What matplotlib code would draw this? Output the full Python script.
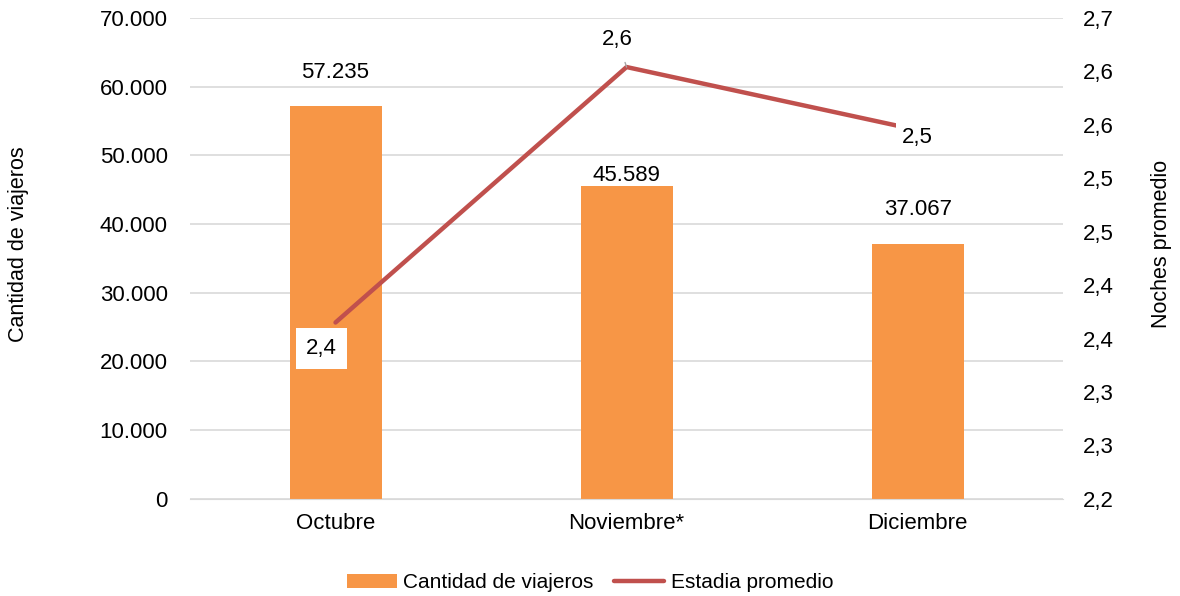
import matplotlib.pyplot as plt
from matplotlib.ticker import FuncFormatter, MultipleLocator

meses = ['Octubre', 'Noviembre*', 'Diciembre']
viajeros = [57235, 45589, 37067]
estadia = [2.365, 2.604, 2.545]
estadia_txt = ['2,4', '2,6', '2,5']

plt.rcParams['font.family'] = ['Liberation Sans', 'DejaVu Sans']

naranja = '#F79646'
rojo = '#C0504D'
fs = 16

fig = plt.figure(figsize=(11.8, 5.96), dpi=100)
ax = fig.add_axes([0.161, 0.163, 0.740, 0.807])
ax2 = ax.twinx()

x = list(range(len(meses)))
ax.bar(x, viajeros, width=0.316, color=naranja, zorder=2, label='Cantidad de viajeros')
ax.set_xlim(-0.5, 2.5)
ax.set_ylim(0, 70000)
ax.yaxis.set_major_locator(MultipleLocator(10000))
ax.yaxis.set_major_formatter(FuncFormatter(lambda v, p: f'{int(v):,}'.replace(',', '.')))
ax.grid(axis='y', color='#d9d9d9', linewidth=1.2, zorder=0)
ax.set_axisbelow(True)
ax.set_xticks(x)
ax.set_xticklabels(meses)
ax.tick_params(axis='y', length=0, labelsize=fs, pad=16)
ax.tick_params(axis='x', length=0, labelsize=fs, pad=10)
ax.set_ylabel('Cantidad de viajeros', fontsize=15.5)
ax.yaxis.set_label_coords(-0.184, 0.53)

# desplazamiento de las etiquetas sobre las barras (en puntos)
offs = [24, 7, 25]
for xi, v, o in zip(x, viajeros, offs):
    ax.annotate(f'{v:,}'.replace(',', '.'), (xi, v), xytext=(0, o), textcoords='offset points',
                ha='center', va='center', fontsize=fs)

ax2.plot(x, estadia, color=rojo, linewidth=3.2, solid_capstyle='round', label='Estadia promedio', zorder=3)
ax2.set_ylim(2.2, 2.65)
ax2.yaxis.set_major_locator(MultipleLocator(0.05))
ax2.yaxis.set_major_formatter(FuncFormatter(lambda v, p: f'{v + 1e-9:.1f}'.replace('.', ',')))
ax2.tick_params(axis='y', length=0, labelsize=fs, pad=14)
ax2.set_ylabel('Noches promedio', fontsize=15.5)
ax2.yaxis.set_label_coords(1.1, 0.53)

for a in (ax, ax2):
    for s in a.spines.values():
        s.set_visible(False)
ax.spines['bottom'].set_visible(True)
ax.spines['bottom'].set_color('#d9d9d9')

# etiquetas de la linea
caja = dict(boxstyle='square,pad=0.45', fc='white', ec='none')
ax2.annotate(estadia_txt[0], (x[0], estadia[0]), xytext=(-10, -19), textcoords='offset points',
             ha='center', va='center', fontsize=fs, bbox=caja, zorder=5)
ax2.annotate(estadia_txt[1], (x[1], estadia[1]), xytext=(-6.5, 19.5), textcoords='offset points',
             ha='center', va='center', fontsize=fs,
             arrowprops=dict(arrowstyle='-', color='#a6a6a6', lw=1, shrinkA=7, shrinkB=0))
ax2.annotate(estadia_txt[2], (x[2], estadia[2]), xytext=(0, -5), textcoords='offset points',
             ha='center', va='center', fontsize=fs,
             bbox=dict(boxstyle='square,pad=0.3', fc='white', ec='none'), zorder=5)

h1, l1 = ax.get_legend_handles_labels()
h2, l2 = ax2.get_legend_handles_labels()
fig.legend(h1 + h2, l1 + l2, loc='center', bbox_to_anchor=(0.5, 0.022), ncol=2,
           frameon=False, fontsize=15, handlelength=2.4, handletextpad=0.3, columnspacing=1.0)

fig.savefig('out.png', dpi=100)
